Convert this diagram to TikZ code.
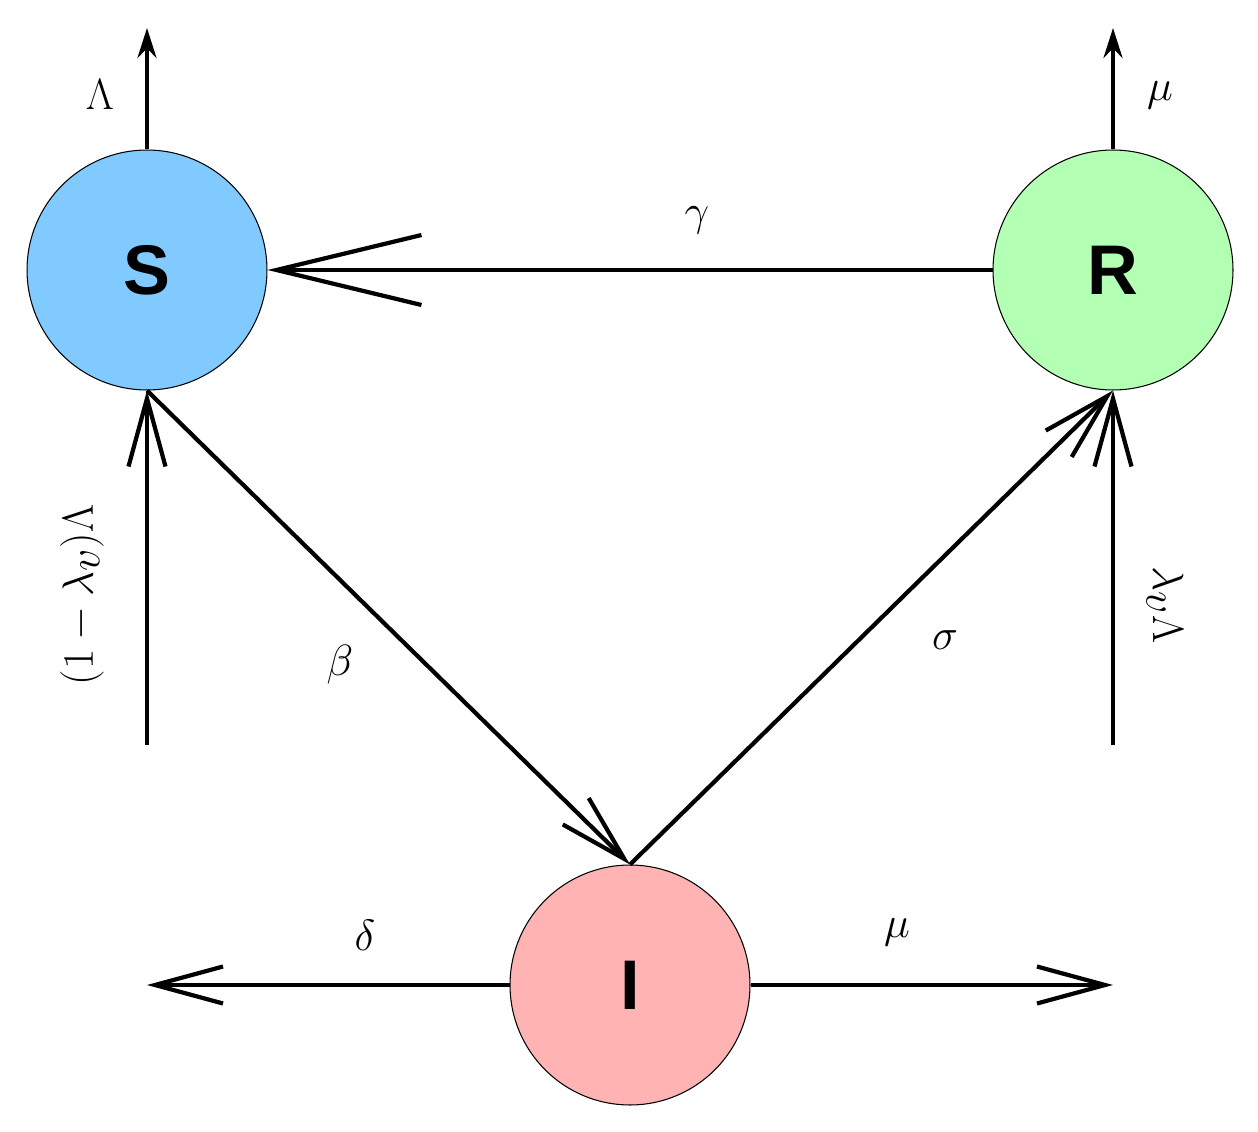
\documentclass[tikz,border=0pt]{standalone}
\usepackage{fontspec}
\usetikzlibrary{arrows.meta}
\newfontfamily\sansb{Liberation Sans}
\definecolor{cs}{HTML}{80CAFF}
\definecolor{cr}{HTML}{B3FFB3}
\definecolor{ci}{HTML}{FFB3B3}
\begin{document}
\begin{tikzpicture}[x=0.02cm,y=-0.02cm,
  comp/.style={circle,draw=black,line width=0.6pt,minimum size=4.8cm,inner sep=0pt,font=\sansb\bfseries\fontsize{40}{44}\selectfont},
  flow/.style={line width=2.4pt,-{Straight Barb[length=1.36cm,width=0.74cm,line width=2.4pt]}},
  bigflow/.style={line width=2.4pt,-{Straight Barb[length=2.9cm,width=1.4cm,line width=2.4pt]}},
  outflow/.style={line width=2.4pt,-{Stealth[length=0.6cm,width=0.38cm]}},
  lab/.style={font=\fontsize{34}{40}\selectfont}]
\useasboundingbox (0,0) rectangle (1258,1132);
\node[comp,fill=cs] (S) at (147,270) {S};
\node[comp,fill=cr] (R) at (1113,270) {R};
\node[comp,fill=ci] (I) at (630,985) {I};
\coordinate (St) at (147,28);
\coordinate (Rt) at (1113,28);
\coordinate (Sb) at (147,745);
\coordinate (Rb) at (1113,745);
\coordinate (Il) at (147,985);
\coordinate (Ir) at (1113,985);
\draw[outflow] (S.north) -- (St);
\draw[outflow] (R.north) -- (Rt);
\draw[bigflow] (R.west) -- (S.east);
\draw[flow] (Sb) -- (S.south);
\draw[flow] (Rb) -- (R.south);
\draw[flow] (S.south) -- (I.north);
\draw[flow] (I.north) -- (R.south);
\draw[flow] (I.west) -- (Il);
\draw[flow] (I.east) -- (Ir);
\node[lab] (l1) at (100,95) {$\Lambda$};
\node[lab] (l2) at (1160,95) {$\mu$};
\node[lab] (l3) at (697,220) {$\gamma$};
\node[lab,rotate=90] (l4) at (82,595) {$(1-\lambda_v)\Lambda$};
\node[lab,rotate=-90] (l5) at (1165,605) {$\lambda_v\Lambda$};
\node[lab] (l6) at (340,665) {$\beta$};
\node[lab] (l7) at (945,640) {$\sigma$};
\node[lab] (l8) at (365,935) {$\delta$};
\node[lab] (l9) at (897,932) {$\mu$};
\end{tikzpicture}
\end{document}
